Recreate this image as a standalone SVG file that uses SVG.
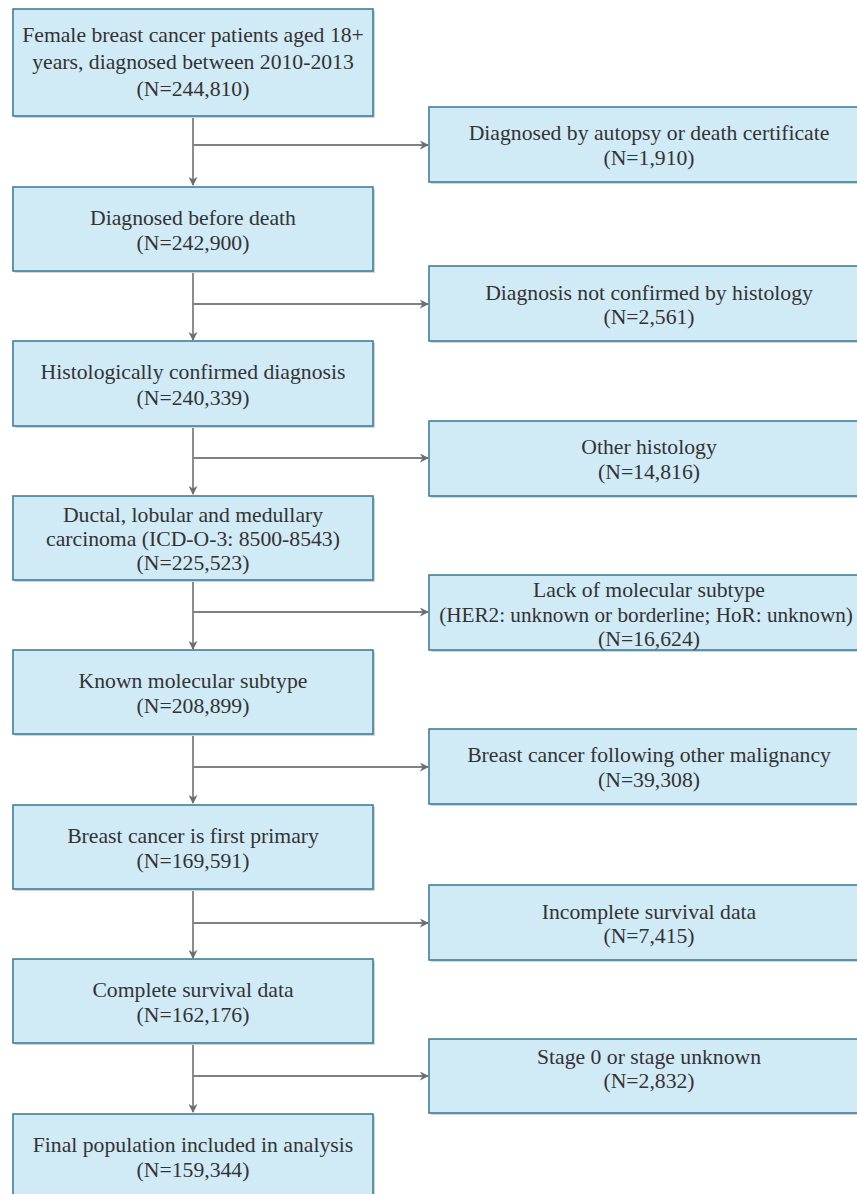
<svg xmlns="http://www.w3.org/2000/svg" width="857" height="1194" viewBox="0 0 857 1194">
<style>
.box{fill:#d0eaf6;stroke:#3f7f99;stroke-width:1.6}
.sh{fill:#d4d4d4}
.t{font-family:"Liberation Serif","Times New Roman",serif;font-size:21.7px;fill:#333333;text-anchor:middle}
.c{stroke:#808080;stroke-width:1.8;fill:none}
</style>
<defs>
<marker id="ah" viewBox="0 0 10 10" refX="9" refY="5" markerWidth="9" markerHeight="9" orient="auto" markerUnits="userSpaceOnUse">
<path d="M0,0 L10,5 L0,10 L3,5 z" fill="#6e6e6e"/>
</marker>
</defs>
<rect width="857" height="1194" fill="#ffffff"/>
<g id="connectors">
<path class="c" d="M193,116 V185" marker-end="url(#ah)"/>
<path class="c" d="M193,145 H428" marker-end="url(#ah)"/>
<path class="c" d="M193,271 V340" marker-end="url(#ah)"/>
<path class="c" d="M193,304 H428" marker-end="url(#ah)"/>
<path class="c" d="M193,426 V494" marker-end="url(#ah)"/>
<path class="c" d="M193,458 H428" marker-end="url(#ah)"/>
<path class="c" d="M193,580 V649" marker-end="url(#ah)"/>
<path class="c" d="M193,612 H428" marker-end="url(#ah)"/>
<path class="c" d="M193,734 V803" marker-end="url(#ah)"/>
<path class="c" d="M193,767 H428" marker-end="url(#ah)"/>
<path class="c" d="M193,889 V958" marker-end="url(#ah)"/>
<path class="c" d="M193,923 H428" marker-end="url(#ah)"/>
<path class="c" d="M193,1043 V1112" marker-end="url(#ah)"/>
<path class="c" d="M193,1076 H428" marker-end="url(#ah)"/>
</g>
<g id="n1"><rect class="sh" x="15" y="11" width="360" height="107"/><rect class="box" x="13" y="9" width="360" height="107"/>
<text class="t" x="193" y="42">Female breast cancer patients aged 18+</text><text class="t" x="193" y="69">years, diagnosed between 2010-2013</text><text class="t" x="193" y="96">(N=244,810)</text></g>
<g id="r1"><rect class="sh" x="431" y="109" width="440" height="75"/><rect class="box" x="429" y="107" width="440" height="75"/>
<text class="t" x="649" y="140">Diagnosed by autopsy or death certificate</text><text class="t" x="649" y="164.5">(N=1,910)</text></g>
<g id="n2"><rect class="sh" x="15" y="189" width="360" height="84"/><rect class="box" x="13" y="187" width="360" height="84"/>
<text class="t" x="193" y="225">Diagnosed before death</text><text class="t" x="193" y="250">(N=242,900)</text></g>
<g id="r2"><rect class="sh" x="431" y="268" width="440" height="75"/><rect class="box" x="429" y="266" width="440" height="75"/>
<text class="t" x="649" y="300">Diagnosis not confirmed by histology</text><text class="t" x="649" y="324">(N=2,561)</text></g>
<g id="n3"><rect class="sh" x="15" y="343" width="360" height="85"/><rect class="box" x="13" y="341" width="360" height="85"/>
<text class="t" x="193" y="379">Histologically confirmed diagnosis</text><text class="t" x="193" y="405">(N=240,339)</text></g>
<g id="r3"><rect class="sh" x="431" y="423" width="440" height="75"/><rect class="box" x="429" y="421" width="440" height="75"/>
<text class="t" x="649" y="454">Other histology</text><text class="t" x="649" y="478.5">(N=14,816)</text></g>
<g id="n4"><rect class="sh" x="15" y="498" width="360" height="84"/><rect class="box" x="13" y="496" width="360" height="84"/>
<text class="t" x="193" y="522">Ductal, lobular and medullary</text><text class="t" x="193" y="545.5">carcinoma (ICD-O-3: 8500-8543)</text><text class="t" x="193" y="570">(N=225,523)</text></g>
<g id="r4"><rect class="sh" x="431" y="577" width="440" height="75"/><rect class="box" x="429" y="575" width="440" height="75"/>
<text class="t" x="649" y="597">Lack of molecular subtype</text><text class="t" x="646" y="621.5" style="font-size:21.2px">(HER2: unknown or borderline; HoR: unknown)</text><text class="t" x="649" y="646">(N=16,624)</text></g>
<g id="n5"><rect class="sh" x="15" y="652" width="360" height="84"/><rect class="box" x="13" y="650" width="360" height="84"/>
<text class="t" x="193" y="688">Known molecular subtype</text><text class="t" x="193" y="713">(N=208,899)</text></g>
<g id="r5"><rect class="sh" x="431" y="731" width="440" height="75"/><rect class="box" x="429" y="729" width="440" height="75"/>
<text class="t" x="649" y="762">Breast cancer following other malignancy</text><text class="t" x="649" y="786.5">(N=39,308)</text></g>
<g id="n6"><rect class="sh" x="15" y="807" width="360" height="84"/><rect class="box" x="13" y="805" width="360" height="84"/>
<text class="t" x="193" y="842.5">Breast cancer is first primary</text><text class="t" x="193" y="867.5">(N=169,591)</text></g>
<g id="r6"><rect class="sh" x="431" y="887" width="440" height="75"/><rect class="box" x="429" y="885" width="440" height="75"/>
<text class="t" x="649" y="918.5">Incomplete survival data</text><text class="t" x="649" y="943">(N=7,415)</text></g>
<g id="n7"><rect class="sh" x="15" y="961" width="360" height="84"/><rect class="box" x="13" y="959" width="360" height="84"/>
<text class="t" x="193" y="997">Complete survival data</text><text class="t" x="193" y="1022">(N=162,176)</text></g>
<g id="r7"><rect class="sh" x="431" y="1041" width="440" height="74"/><rect class="box" x="429" y="1039" width="440" height="74"/>
<text class="t" x="649" y="1063.5">Stage 0 or stage unknown</text><text class="t" x="649" y="1088">(N=2,832)</text></g>
<g id="n8"><rect class="sh" x="15" y="1116" width="360" height="90"/><rect class="box" x="13" y="1114" width="360" height="90"/>
<text class="t" x="193" y="1152">Final population included in analysis</text><text class="t" x="193" y="1177">(N=159,344)</text></g>
</svg>
